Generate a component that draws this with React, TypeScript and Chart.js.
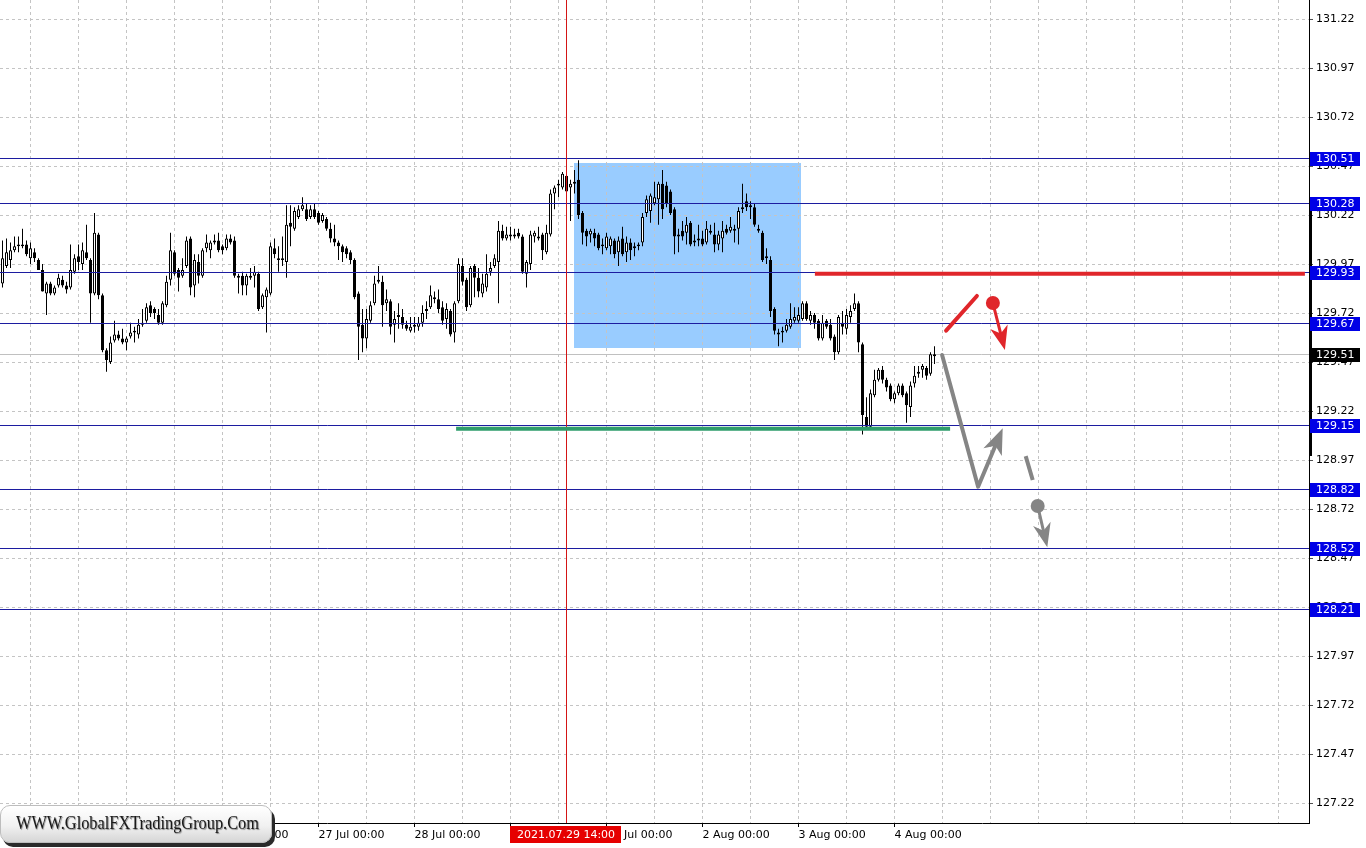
import React, { useEffect, useRef } from 'react';
import { Chart, registerables } from 'chart.js';
Chart.register(...registerables);

const FONT = "'DejaVu Sans', Verdana, sans-serif";

// H1 candles, index 0 = 21 Jul 17:00, index 7 = 22 Jul 00:00
const opens = [
  129.87, 129.96, 129.99, 130.04, 130.06, 130.06, 130.07, 130.00, 130.03, 129.99,
  129.94, 129.82, 129.87, 129.82, 129.86, 129.89, 129.86, 129.85, 129.93, 130.01,
  129.97, 130.03, 129.99, 129.82, 130.12, 129.81, 129.53, 129.47, 129.58, 129.61,
  129.59, 129.57, 129.60, 129.63, 129.61, 129.66, 129.68, 129.76, 129.74, 129.71,
  129.67, 129.76, 129.89, 130.03, 129.94, 129.91, 129.96, 130.10, 129.86, 129.98,
  129.91, 130.05, 130.04, 130.09, 130.09, 130.06, 130.05, 130.10, 130.09, 129.91,
  129.91, 129.86, 129.90, 129.91, 129.92, 129.75, 129.80, 129.82, 130.05, 130.00,
  130.00, 129.98, 130.18, 130.15, 130.21, 130.25, 130.25, 130.21, 130.25, 130.23,
  130.19, 130.20, 130.15, 130.10, 130.08, 130.06, 130.05, 130.03, 129.99, 129.82,
  129.66, 129.59, 129.68, 129.77, 129.88, 129.88, 129.77, 129.78, 129.66, 129.70,
  129.70, 129.66, 129.63, 129.65, 129.65, 129.67, 129.73, 129.75, 129.79, 129.79,
  129.75, 129.69, 129.73, 129.62, 129.78, 129.96, 129.89, 129.76, 129.96, 129.90,
  129.82, 129.85, 129.93, 129.96, 129.98, 130.14, 130.10, 130.11, 130.11, 130.13,
  130.11, 129.92, 129.97, 130.11, 130.10, 130.12, 130.03, 130.12, 130.33, 130.37,
  130.36, 130.42, 130.36, 130.39, 130.40, 130.23, 130.14, 130.12, 130.13, 130.12,
  130.07, 130.05, 130.06, 130.09, 130.03, 130.10, 130.03, 130.08, 130.05, 130.06,
  130.08, 130.23, 130.24, 130.28, 130.30, 130.38, 130.37, 130.34, 130.25, 130.11,
  130.14, 130.13, 130.18, 130.08, 130.09, 130.10, 130.08, 130.14, 130.12, 130.07,
  130.10, 130.15, 130.14, 130.15, 130.15, 130.25, 130.29, 130.26, 130.26, 130.15,
  130.13, 130.01, 129.99, 129.74, 129.62, 129.62, 129.63, 129.65, 129.68, 129.68,
  129.69, 129.77, 129.68, 129.71, 129.68, 129.59, 129.68, 129.66, 129.60, 129.52,
  129.67, 129.64, 129.70, 129.74, 129.77, 129.56, 129.19, 129.14, 129.30, 129.38,
  129.43, 129.38, 129.35, 129.28, 129.31, 129.35, 129.31, 129.24, 129.36, 129.41,
  129.43, 129.44, 129.41, 129.50,
];
const highs = [
  130.09, 130.10, 130.08, 130.11, 130.11, 130.15, 130.09, 130.08, 130.05, 130.00,
  129.97, 129.88, 129.88, 129.86, 129.92, 129.91, 129.88, 130.07, 130.02, 130.07,
  130.08, 130.17, 130.00, 130.23, 130.13, 129.82, 129.54, 129.60, 129.68, 129.63,
  129.64, 129.60, 129.67, 129.65, 129.69, 129.74, 129.77, 129.78, 129.75, 129.74,
  129.78, 129.91, 130.13, 130.04, 129.95, 130.00, 130.11, 130.11, 130.02, 130.02,
  130.05, 130.12, 130.09, 130.12, 130.13, 130.07, 130.12, 130.12, 130.11, 129.92,
  129.93, 129.92, 129.95, 129.96, 129.93, 129.82, 129.85, 130.08, 130.10, 130.06,
  130.11, 130.27, 130.27, 130.26, 130.27, 130.31, 130.28, 130.27, 130.28, 130.24,
  130.23, 130.21, 130.18, 130.17, 130.09, 130.07, 130.06, 130.04, 130.00, 129.83,
  129.74, 129.74, 129.78, 129.91, 129.96, 129.91, 129.84, 129.79, 129.73, 129.77,
  129.74, 129.68, 129.70, 129.70, 129.70, 129.76, 129.78, 129.86, 129.83, 129.84,
  129.78, 129.77, 129.74, 129.78, 130.00, 130.00, 129.90, 129.96, 129.97, 129.95,
  129.92, 130.02, 129.98, 130.02, 130.19, 130.17, 130.16, 130.16, 130.15, 130.15,
  130.12, 129.99, 130.14, 130.14, 130.16, 130.13, 130.17, 130.35, 130.37, 130.40,
  130.44, 130.43, 130.40, 130.45, 130.50, 130.24, 130.15, 130.15, 130.15, 130.13,
  130.10, 130.13, 130.11, 130.10, 130.11, 130.16, 130.11, 130.10, 130.08, 130.08,
  130.23, 130.32, 130.33, 130.39, 130.39, 130.45, 130.39, 130.35, 130.26, 130.15,
  130.19, 130.21, 130.19, 130.12, 130.17, 130.14, 130.19, 130.17, 130.18, 130.14,
  130.19, 130.17, 130.21, 130.17, 130.26, 130.38, 130.33, 130.29, 130.28, 130.17,
  130.14, 130.05, 130.01, 129.75, 129.64, 129.65, 129.69, 129.77, 129.75, 129.75,
  129.78, 129.78, 129.73, 129.72, 129.69, 129.71, 129.69, 129.69, 129.61, 129.71,
  129.73, 129.74, 129.76, 129.82, 129.78, 129.57, 129.29, 129.33, 129.43, 129.44,
  129.45, 129.39, 129.36, 129.32, 129.36, 129.36, 129.32, 129.37, 129.45, 129.45,
  129.46, 129.45, 129.52, 129.55,
];
const lows = [
  129.85, 129.95, 129.95, 130.03, 130.03, 130.05, 130.01, 129.97, 129.98, 129.94,
  129.83, 129.71, 129.81, 129.81, 129.85, 129.85, 129.82, 129.84, 129.92, 129.94,
  129.94, 129.99, 129.67, 129.81, 129.79, 129.52, 129.42, 129.46, 129.57, 129.58,
  129.56, 129.53, 129.59, 129.57, 129.59, 129.65, 129.67, 129.70, 129.69, 129.66,
  129.66, 129.75, 129.86, 129.91, 129.83, 129.90, 129.95, 129.81, 129.80, 129.87,
  129.90, 130.03, 130.00, 130.07, 130.03, 130.02, 130.04, 130.07, 129.90, 129.82,
  129.81, 129.81, 129.89, 129.85, 129.73, 129.74, 129.62, 129.81, 130.00, 129.93,
  129.96, 129.90, 130.06, 130.14, 130.20, 130.24, 130.19, 130.20, 130.20, 130.17,
  130.18, 130.14, 130.08, 130.06, 129.99, 129.98, 130.00, 129.97, 129.79, 129.48,
  129.52, 129.54, 129.67, 129.76, 129.87, 129.65, 129.73, 129.61, 129.57, 129.64,
  129.64, 129.63, 129.62, 129.62, 129.63, 129.65, 129.69, 129.74, 129.77, 129.72,
  129.66, 129.64, 129.60, 129.57, 129.77, 129.86, 129.73, 129.75, 129.80, 129.80,
  129.80, 129.83, 129.91, 129.95, 129.77, 130.09, 130.09, 130.09, 130.10, 130.10,
  129.92, 129.85, 129.94, 130.08, 130.09, 129.99, 130.02, 130.11, 130.25, 130.31,
  130.35, 130.23, 130.19, 130.33, 130.20, 130.07, 130.06, 130.08, 130.06, 130.04,
  130.02, 130.04, 130.02, 130.00, 129.96, 130.01, 129.98, 129.99, 130.01, 130.04,
  130.06, 130.21, 130.18, 130.27, 130.17, 130.20, 130.26, 130.22, 130.02, 130.03,
  130.09, 130.07, 130.06, 130.06, 130.06, 130.06, 130.07, 130.12, 130.03, 130.04,
  130.03, 130.12, 130.13, 130.08, 130.07, 130.23, 130.24, 130.20, 130.16, 130.13,
  129.98, 129.97, 129.70, 129.61, 129.55, 129.57, 129.62, 129.64, 129.67, 129.67,
  129.68, 129.68, 129.66, 129.64, 129.58, 129.58, 129.64, 129.58, 129.48, 129.51,
  129.61, 129.61, 129.67, 129.73, 129.52, 129.10, 129.13, 129.13, 129.29, 129.37,
  129.36, 129.32, 129.27, 129.26, 129.30, 129.29, 129.16, 129.19, 129.34, 129.39,
  129.39, 129.38, 129.40, 129.46,
];
const closes = [
  130.00, 130.03, 130.04, 130.06, 130.07, 130.07, 130.02, 130.05, 130.00, 129.94,
  129.83, 129.87, 129.82, 129.85, 129.90, 129.86, 129.84, 129.94, 130.00, 129.98,
  130.04, 130.00, 129.82, 130.13, 129.81, 129.53, 129.48, 129.57, 129.61, 129.59,
  129.57, 129.59, 129.62, 129.62, 129.66, 129.67, 129.75, 129.72, 129.72, 129.67,
  129.77, 129.88, 130.04, 129.92, 129.90, 129.94, 130.09, 129.85, 129.99, 129.91,
  130.04, 130.08, 130.08, 130.08, 130.04, 130.04, 130.10, 130.08, 129.91, 129.90,
  129.86, 129.91, 129.91, 129.93, 129.74, 129.81, 129.84, 130.06, 130.02, 129.99,
  129.99, 130.17, 130.16, 130.24, 130.25, 130.27, 130.20, 130.25, 130.21, 130.18,
  130.22, 130.15, 130.10, 130.08, 130.06, 130.03, 130.02, 129.99, 129.80, 129.65,
  129.59, 129.69, 129.76, 129.87, 129.89, 129.76, 129.79, 129.65, 129.69, 129.71,
  129.66, 129.64, 129.65, 129.66, 129.67, 129.72, 129.74, 129.81, 129.80, 129.74,
  129.68, 129.74, 129.61, 129.77, 129.97, 129.88, 129.75, 129.95, 129.90, 129.83,
  129.87, 129.92, 129.95, 130.00, 130.14, 130.10, 130.12, 130.12, 130.12, 130.11,
  129.93, 129.98, 130.12, 130.13, 130.11, 130.04, 130.13, 130.33, 130.36, 130.38,
  130.43, 130.34, 130.38, 130.38, 130.22, 130.13, 130.11, 130.14, 130.10, 130.05,
  130.06, 130.11, 130.10, 130.02, 130.09, 130.02, 130.08, 130.04, 130.06, 130.07,
  130.21, 130.30, 130.32, 130.31, 130.38, 130.25, 130.28, 130.23, 130.11, 130.12,
  130.11, 130.17, 130.07, 130.09, 130.10, 130.07, 130.15, 130.13, 130.07, 130.12,
  130.14, 130.13, 130.16, 130.14, 130.24, 130.26, 130.26, 130.27, 130.17, 130.14,
  129.99, 130.00, 129.73, 129.63, 129.61, 129.63, 129.66, 129.69, 129.70, 129.71,
  129.77, 129.69, 129.71, 129.67, 129.59, 129.67, 129.65, 129.59, 129.52, 129.70,
  129.65, 129.71, 129.73, 129.77, 129.57, 129.20, 129.14, 129.31, 129.38, 129.43,
  129.38, 129.34, 129.28, 129.31, 129.35, 129.30, 129.25, 129.35, 129.40, 129.42,
  129.45, 129.40, 129.51, 129.51,
];

const dayLabels = [
  '22 Jul 00:00', '23 Jul 00:00', '26 Jul 00:00', '27 Jul 00:00', '28 Jul 00:00',
  '29 Jul 00:00', '30 Jul 00:00', '2 Aug 00:00', '3 Aug 00:00', '4 Aug 00:00',
];
const firstDayIndex = 7;
const priceTicks = [
  127.22, 127.47, 127.72, 127.97, 128.22, 128.47, 128.72, 128.97, 129.22,
  129.47, 129.72, 129.97, 130.22, 130.47, 130.72, 130.97, 131.22,
];
const levels = [130.51, 130.28, 129.93, 129.67, 129.15, 128.82, 128.52, 128.21];
const bidPrice = 129.51;
const markerIndex = 141;
const markerLabel = '2021.07.29 14:00';
const zoneX = [142.9, 199.6];
const zoneY = [129.541, 130.485];
const resistX = [203.1, 325.6];
const resistY = 129.92;
const supportX = [113.4, 236.9];
const supportY = 129.13;
const axisBarY = [130.26, 128.99];
// scenario arrows (candle index, price)
const redStrokeX = [235.9, 243.6];
const redStrokeY = [129.63, 129.807];
const redArrowX = [247.6, 250.6];
const redArrowY = [129.771, 129.531];
const grayPathX = [234.9, 243.9, 250.05];
const grayPathY = [129.506, 128.834, 129.132];
const grayDashX = [255.8, 257.55];
const grayDashY = [128.99, 128.868];
const grayArrowX = [258.8, 261.2];
const grayArrowY = [128.735, 128.525];

const xMin = -0.625;
const xMax = 326.625;
const yMin = 127.118;
const yMax = 131.317;

const RED = '#e0262b';
const GRAY = '#858585';
const GREEN = '#2e9d6b';
const LEVEL_LINE = '#1c1ca0';
const LEVEL_BOX = '#0000e6';

function arrowHead(ctx: any, tx: number, ty: number, fx: number, fy: number, len: number, half: number, notch: number, color: string) {
  const dx = tx - fx, dy = ty - fy;
  const d = Math.hypot(dx, dy) || 1;
  const ux = dx / d, uy = dy / d;
  const nx = -uy, ny = ux;
  ctx.beginPath();
  ctx.moveTo(tx, ty);
  ctx.lineTo(tx - ux * len + nx * half, ty - uy * len + ny * half);
  ctx.lineTo(tx - ux * (len - notch), ty - uy * (len - notch));
  ctx.lineTo(tx - ux * len - nx * half, ty - uy * len - ny * half);
  ctx.closePath();
  ctx.fillStyle = color;
  ctx.fill();
}

const overlay = {
  id: 'overlay',
  beforeDraw(chart: any) {
    const { ctx } = chart;
    const xs = chart.scales.x, ys = chart.scales.y;
    ctx.save();
    const x0 = Math.round(xs.getPixelForValue(zoneX[0]));
    const x1 = Math.round(xs.getPixelForValue(zoneX[1]));
    const y0 = Math.round(ys.getPixelForValue(zoneY[1]));
    const y1 = Math.round(ys.getPixelForValue(zoneY[0]));
    ctx.fillStyle = '#99ccff';
    ctx.fillRect(x0, y0, x1 - x0, y1 - y0);
    ctx.restore();
  },
  beforeDatasetsDraw(chart: any) {
    const { ctx, chartArea } = chart;
    const ys = chart.scales.y;
    ctx.save();
    const y = Math.round(ys.getPixelForValue(bidPrice)) + 0.5;
    ctx.strokeStyle = '#c0c0c0';
    ctx.lineWidth = 1;
    ctx.beginPath();
    ctx.moveTo(chartArea.left, y);
    ctx.lineTo(chartArea.right, y);
    ctx.stroke();
    ctx.restore();
  },
  afterDatasetsDraw(chart: any) {
    const { ctx, chartArea } = chart;
    const xs = chart.scales.x, ys = chart.scales.y;
    const X = (v: number) => xs.getPixelForValue(v);
    const Y = (v: number) => ys.getPixelForValue(v);
    ctx.save();
    ctx.lineWidth = 1;
    ctx.strokeStyle = LEVEL_LINE;
    levels.forEach((l) => {
      const y = Math.round(Y(l)) + 0.5;
      ctx.beginPath();
      ctx.moveTo(chartArea.left, y);
      ctx.lineTo(chartArea.right, y);
      ctx.stroke();
    });
    const mx = Math.round(X(markerIndex) - 0.5) + 0.5;
    ctx.strokeStyle = '#d41515';
    ctx.beginPath();
    ctx.moveTo(mx, chartArea.top);
    ctx.lineTo(mx, chartArea.bottom);
    ctx.stroke();
    ctx.lineWidth = 4;
    ctx.lineCap = 'butt';
    ctx.strokeStyle = RED;
    ctx.beginPath();
    ctx.moveTo(X(resistX[0]), Y(resistY));
    ctx.lineTo(X(resistX[1]), Y(resistY));
    ctx.stroke();
    ctx.strokeStyle = GREEN;
    ctx.beginPath();
    ctx.moveTo(X(supportX[0]), Y(supportY));
    ctx.lineTo(X(supportX[1]), Y(supportY));
    ctx.stroke();
    ctx.lineCap = 'round';
    ctx.strokeStyle = RED;
    ctx.lineWidth = 4;
    ctx.beginPath();
    ctx.moveTo(X(redStrokeX[0]), Y(redStrokeY[0]));
    ctx.lineTo(X(redStrokeX[1]), Y(redStrokeY[1]));
    ctx.stroke();
    const drawDotArrow = (ax: number[], ay: number[], color: string) => {
      const fx = X(ax[0]), fy = Y(ay[0]), tx = X(ax[1]), ty = Y(ay[1]);
      const d = Math.hypot(tx - fx, ty - fy);
      const ux = (tx - fx) / d, uy = (ty - fy) / d;
      ctx.strokeStyle = color;
      ctx.lineWidth = 3;
      ctx.beginPath();
      ctx.moveTo(fx, fy);
      ctx.lineTo(tx - ux * 16, ty - uy * 16);
      ctx.stroke();
      arrowHead(ctx, tx, ty, fx, fy, 24, 9, 7, color);
      ctx.beginPath();
      ctx.arc(fx, fy, 7, 0, Math.PI * 2);
      ctx.fillStyle = color;
      ctx.fill();
    };
    drawDotArrow(redArrowX, redArrowY, RED);
    ctx.strokeStyle = GRAY;
    ctx.lineWidth = 4;
    ctx.lineJoin = 'round';
    const n = grayPathX.length;
    const tx = X(grayPathX[n - 1]), ty = Y(grayPathY[n - 1]);
    const fx = X(grayPathX[n - 2]), fy = Y(grayPathY[n - 2]);
    const dd = Math.hypot(tx - fx, ty - fy);
    ctx.beginPath();
    ctx.moveTo(X(grayPathX[0]), Y(grayPathY[0]));
    for (let i = 1; i < n - 1; i++) ctx.lineTo(X(grayPathX[i]), Y(grayPathY[i]));
    ctx.lineTo(tx - ((tx - fx) / dd) * 16, ty - ((ty - fy) / dd) * 16);
    ctx.stroke();
    arrowHead(ctx, tx, ty, fx, fy, 26, 10, 7, GRAY);
    ctx.lineCap = 'butt';
    ctx.beginPath();
    ctx.moveTo(X(grayDashX[0]), Y(grayDashY[0]));
    ctx.lineTo(X(grayDashX[1]), Y(grayDashY[1]));
    ctx.stroke();
    drawDotArrow(grayArrowX, grayArrowY, GRAY);
    ctx.restore();
  },
  afterDraw(chart: any) {
    const { ctx, chartArea } = chart;
    const xs = chart.scales.x, ys = chart.scales.y;
    const X = (v: number) => xs.getPixelForValue(v);
    const Y = (v: number) => ys.getPixelForValue(v);
    ctx.save();
    ctx.fillStyle = '#000';
    const ya = Math.round(Y(axisBarY[0])), yb = Math.round(Y(axisBarY[1]));
    ctx.fillRect(chartArea.right, ya, 3, yb - ya);
    ctx.font = `11px ${FONT}`;
    ctx.textBaseline = 'middle';
    ctx.textAlign = 'left';
    const box = (v: number, color: string) => {
      const y = Math.round(Y(v));
      ctx.fillStyle = color;
      ctx.fillRect(chartArea.right + 1, y - 6, 50, 14);
      ctx.fillStyle = '#fff';
      ctx.fillText(v.toFixed(2), chartArea.right + 7, y + 1);
    };
    levels.forEach((l) => box(l, LEVEL_BOX));
    box(bidPrice, '#000');
    const mx = Math.round(X(markerIndex));
    ctx.fillStyle = '#e60000';
    ctx.fillRect(mx - 57, chartArea.bottom + 3, 111, 17);
    ctx.fillStyle = '#fff';
    ctx.textAlign = 'center';
    ctx.fillText(markerLabel, mx - 1, chartArea.bottom + 12);
    ctx.restore();
  },
};

export default function App() {
  const ref = useRef<HTMLCanvasElement>(null);
  useEffect(() => {
    document.body.style.margin = '0';
    const canvas = ref.current;
    if (!canvas) return;
    const bodies = closes.map((c, i) => ({ x: i, y: [opens[i], c] }));
    const wicks = closes.map((_, i) => ({ x: i, y: [lows[i], highs[i]] }));
    const fills = closes.map((c, i) => (c >= opens[i] ? '#ffffff' : '#000000'));
    const gridTicks: number[] = [];
    for (let v = firstDayIndex; v <= xMax; v += 12) gridTicks.push(v);
    const dayOf = (v: number) => ((v - firstDayIndex) % 24 === 0 ? (v - firstDayIndex) / 24 : -1);
    const chart = new Chart(canvas, {
      type: 'bar',
      data: {
        datasets: [
          {
            label: 'bodies',
            data: bodies as any,
            backgroundColor: fills,
            borderColor: '#000',
            borderWidth: 1,
            borderSkipped: false,
            barThickness: 3,
            grouped: false,
            inflateAmount: 0,
            order: 1,
          } as any,
          {
            label: 'wicks',
            data: wicks as any,
            backgroundColor: '#000',
            borderWidth: 0,
            barThickness: 1,
            grouped: false,
            inflateAmount: 0,
            order: 2,
          } as any,
        ],
      },
      options: {
        animation: false,
        responsive: true,
        maintainAspectRatio: false,
        events: [],
        layout: { padding: 0, autoPadding: false } as any,
        plugins: { legend: { display: false }, tooltip: { enabled: false } },
        scales: {
          x: {
            type: 'linear',
            position: 'bottom',
            min: xMin,
            max: xMax,
            offset: false,
            afterBuildTicks: (s: any) => {
              s.ticks = gridTicks.map((v) => ({ value: v }));
            },
            afterFit: (s: any) => {
              s.height = 25;
              s.paddingLeft = 0;
              s.paddingRight = 0;
            },
            ticks: {
              autoSkip: false,
              maxRotation: 0,
              minRotation: 0,
              align: 'start',
              padding: 2,
              color: '#000',
              font: { family: FONT, size: 11 },
              callback: (v: any) => {
                const d = dayOf(Number(v));
                return d >= 0 && d < dayLabels.length ? dayLabels[d] : '';
              },
            },
            grid: {
              offset: false,
              color: '#c4c4c4',
              lineWidth: 1,
              drawTicks: true,
              tickLength: 4,
              tickColor: (c: any) => {
                const v = gridTicks[c.index];
                const d = v === undefined ? -1 : dayOf(v);
                return d >= 0 && d < dayLabels.length ? '#000' : 'rgba(0,0,0,0)';
              },
            },
            border: { display: true, color: '#000', width: 1, dash: [3, 3] },
          } as any,
          y: {
            type: 'linear',
            position: 'right',
            min: yMin,
            max: yMax,
            afterBuildTicks: (s: any) => {
              s.ticks = priceTicks.map((v) => ({ value: v }));
            },
            afterFit: (s: any) => {
              s.width = 57;
              s.paddingTop = 0;
              s.paddingBottom = 0;
            },
            ticks: {
              autoSkip: false,
              padding: 3,
              color: '#000',
              font: { family: FONT, size: 11 },
              callback: (v: any) => Number(v).toFixed(2),
            },
            grid: {
              offset: false,
              color: '#c4c4c4',
              lineWidth: 1,
              drawTicks: true,
              tickLength: 4,
              tickColor: '#505050',
            },
            border: { display: true, color: '#000', width: 1, dash: [3, 3] },
          } as any,
        },
      },
      plugins: [overlay],
    });
    return () => chart.destroy();
  }, []);

  return (
    <div style={{ position: 'absolute', left: 0, top: 0, width: 1366, height: 848, background: '#fff', overflow: 'hidden' }}>
      <canvas ref={ref} />
      <div
        style={{
          position: 'absolute',
          left: 0,
          top: 805,
          width: 272,
          height: 38,
          borderRadius: 10,
          background: 'linear-gradient(to bottom, #ffffff 0%, #f1f1f1 55%, #d6d6d6 100%)',
          boxShadow: '3px 4px 0 #2a2a2a',
          border: '1px solid #bdbdbd',
          boxSizing: 'border-box',
        }}
      >
        <div
          style={{
            position: 'absolute',
            left: 15,
            top: 7,
            whiteSpace: 'nowrap',
            fontFamily: "'Liberation Serif', 'DejaVu Serif', serif",
            fontSize: 19,
            lineHeight: '20px',
            color: '#1a1a1a',
            textShadow: '1px 1px 1px #8a8a8a',
            transform: 'scaleX(0.86)',
            transformOrigin: 'left center',
          }}
        >
          WWW.GlobalFXTradingGroup.Com
        </div>
      </div>
    </div>
  );
}
